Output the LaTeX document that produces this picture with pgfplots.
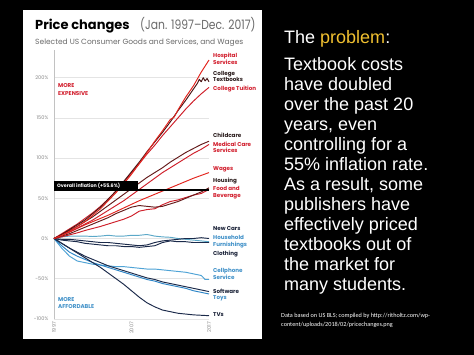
\documentclass[border=0pt]{standalone}
\usepackage{fontspec}
\setmainfont{Liberation Sans}
\newfontfamily\chartfont{Poppins}
\newfontfamily\notefont{Carlito}
\usepackage{graphicx}
\usepackage{pgfplots}
\pgfplotsset{compat=1.18}
\definecolor{hred}{HTML}{E3231C}
\definecolor{mred}{HTML}{CF1F2A}
\definecolor{dred}{HTML}{4A1414}
\definecolor{dred2}{HTML}{651B1B}
\definecolor{navy}{HTML}{1B2A4A}
\definecolor{lblue}{HTML}{4FA3D6}
\definecolor{mblue}{HTML}{2E86C8}
\definecolor{tealb}{HTML}{5BA8C8}
\definecolor{labred}{HTML}{D21F2E}
\definecolor{labdark}{HTML}{2A1C1C}
\definecolor{labnavy}{HTML}{1A2238}
\definecolor{labblue}{HTML}{3F90C8}
\definecolor{ygold}{HTML}{F0C030}
\definecolor{tickgray}{HTML}{8A8A8A}
\definecolor{gridgray}{HTML}{E4E4E4}
\definecolor{subgray}{HTML}{6A6A6A}
\newcommand\labfont{\chartfont\bfseries\fontsize{5.6}{6}\selectfont}
\newcommand\lab[3]{\node[anchor=base west, inner sep=0pt, text=#1, font=\labfont] at (213,355-#2-2) {#3};}
\begin{document}
\begin{tikzpicture}[x=1pt,y=1pt]
\fill[black] (0,0) rectangle (474,355);
\fill[white] (23,16) rectangle (262,345);
% titles
\node[anchor=base west, inner sep=0pt] at (35,355-29.5) {\chartfont\bfseries\fontsize{13}{15}\selectfont Price changes};
\node[anchor=base west, inner sep=0pt, text=subgray] at (140,355-29.5) {\scalebox{0.83}[1]{\chartfont\fontsize{13}{15}\selectfont (Jan. 1997–Dec. 2017)}};
\node[anchor=base west, inner sep=0pt, text=subgray] at (35,355-45) {\chartfont\fontsize{7.5}{9}\selectfont Selected US Consumer Goods and Services, and Wages};
\begin{axis}[
  at={(54pt,36.1pt)}, anchor=south west, scale only axis,
  width=155pt, height=268.5pt,
  xmin=1997, xmax=2017, ymin=-100, ymax=234,
  clip=false,
  axis lines*=left,
  x axis line style={draw=none},
  y axis line style={draw=gridgray!85!black, line width=0.6pt},
  major tick length=0pt,
  ymajorgrids, grid style={gridgray, line width=0.6pt},
  xtick={1997,2007,2017}, xticklabels={1997,2007,2017},
  xticklabel style={rotate=90, anchor=east, inner sep=0pt, text=tickgray, font=\chartfont\fontsize{5}{6}\selectfont},
  xticklabel shift=3pt,
  ytick={-100,-50,0,50,100,150,200},
  yticklabels={-100\%,-50\%,0\%,50\%,100\%,150\%,200\%},
  yticklabel style={anchor=east, inner sep=0pt, text=tickgray, font=\chartfont\fontsize{5}{6}\selectfont},
  yticklabel shift=5.5pt,
  every axis plot/.append style={line width=0.95pt, line join=round},
]
% --- blue group
\addplot[tealb] coordinates {(1997,0)(1998,2)(1999,3)(2000,3)(2001,3)(2002,2.5)(2003,3)(2004,4)(2005,3)(2006,3)(2007,4)(2008,4)(2009,5)(2010,3)(2011,2)(2012,1.5)(2013,0)(2014,-1)(2015,-2)(2016,-3)(2017,-4)};
\addplot[navy] coordinates {(1997,0)(1998,-1)(1999,-1)(2000,-2)(2001,-3)(2002,-4)(2003,-5)(2004,-5)(2005,-6)(2006,-7)(2007,-8)(2008,-9)(2009,-8)(2010,-5)(2011,-3)(2012,-2)(2013,-1)(2014,0)(2015,0)(2016,1)(2017,0)};
\addplot[navy] coordinates {(1997,0)(1998,-2)(1999,-3)(2000,-4)(2001,-6)(2002,-7)(2003,-8)(2004,-9)(2005,-9)(2006,-10)(2007,-10)(2008,-11)(2009,-10)(2010,-9)(2011,-5)(2012,-3)(2013,-4)(2014,-4)(2015,-5)(2016,-5)(2017,-5)};
\addplot[lblue] coordinates {(1997,0)(1998,-12)(1999,-22)(2000,-28)(2001,-30)(2002,-32)(2003,-33)(2004,-34)(2005,-35)(2006,-35)(2007,-36)(2008,-37)(2009,-38)(2010,-38)(2011,-39)(2012,-40)(2013,-41)(2014,-42)(2015,-44)(2016,-46)(2016.5,-51)(2017,-51)};
\addplot[mblue] coordinates {(1997,0)(1998,-9)(1999,-17)(2000,-22)(2001,-26)(2002,-30)(2003,-33)(2004,-36)(2005,-39)(2006,-42)(2007,-45)(2008,-48)(2009,-51)(2010,-53)(2011,-56)(2012,-58)(2013,-60)(2014,-62)(2015,-65)(2016,-67)(2017,-69)};
\addplot[navy] coordinates {(1997,0)(1998,-6)(1999,-12)(2000,-17)(2001,-22)(2002,-26)(2003,-30)(2004,-34)(2005,-37)(2006,-40)(2007,-43)(2008,-46)(2009,-49)(2010,-51)(2011,-54)(2012,-56)(2013,-58)(2014,-60)(2015,-62)(2016,-64)(2017,-66)};
\addplot[navy] coordinates {(1997,0)(1998,-6)(1999,-12)(2000,-18)(2001,-24)(2002,-30)(2003,-36)(2004,-43)(2005,-50)(2006,-57)(2007,-65)(2008,-73)(2009,-80)(2010,-85)(2011,-89)(2012,-91)(2013,-93)(2014,-94)(2015,-95)(2016,-95.5)(2017,-96)};
% --- red group
\addplot[mred] coordinates {(1997,0)(1998,2)(1999,4.5)(2000,7)(2001,10)(2002,12.5)(2003,15)(2004,18)(2005,21)(2006,24)(2007,28)(2008,34)(2009,36)(2010,37)(2011,42)(2012,46)(2013,48)(2014,51)(2015,54)(2016,56)(2017,61)};
\addplot[dred2] coordinates {(1997,0)(1998,3)(1999,6)(2000,10)(2001,14)(2002,18)(2003,22)(2004,26)(2005,31)(2006,35)(2007,39)(2008,41)(2009,40)(2010,39)(2011,40)(2012,43)(2013,46)(2014,50)(2015,54)(2016,58)(2017,63)};
\addplot[hred] coordinates {(1997,0)(1998,4)(1999,8)(2000,12.5)(2001,17)(2002,21)(2003,25)(2004,29)(2005,33.5)(2006,38)(2007,42.5)(2008,47)(2009,51)(2010,55)(2011,59)(2012,63)(2013,67)(2014,71)(2015,75)(2016,78.5)(2017,82)};
\addplot[mred] coordinates {(1997,0)(1998,4)(1999,8)(2000,13)(2001,18)(2002,23)(2003,29)(2004,35)(2005,41)(2006,47)(2007,54)(2008,61)(2009,68)(2010,75)(2011,82)(2012,88)(2013,94)(2014,100)(2015,106)(2016,111)(2017,117)};
\addplot[dred2] coordinates {(1997,0)(1998,5)(1999,10)(2000,15)(2001,21)(2002,27)(2003,34)(2004,41)(2005,48)(2006,55)(2007,62)(2008,69)(2009,76)(2010,82)(2011,88)(2012,95)(2013,101)(2014,107)(2015,112)(2016,117)(2017,121)};
\addplot[mred] coordinates {(1997,0)(1998,6)(1999,12)(2000,18)(2001,25)(2002,32)(2003,40)(2004,49)(2005,59)(2006,70)(2007,82)(2008,93)(2009,105)(2010,116)(2011,128)(2012,139)(2013,150)(2014,161)(2015,171)(2016,180)(2017,188)};
\addplot[dred] coordinates {(1997,0)(1998,5)(1999,11)(2000,17)(2001,23)(2002,31)(2003,39)(2004,49)(2005,59)(2006,71)(2007,83)(2008,95)(2009,108)(2010,120)(2011,132)(2012,145)(2013,159)(2014,172)(2015,186)(2015.5,193)(2015.75,198)(2016,195)(2016.25,200)(2016.5,196)(2016.75,199)(2017,195)};
\addplot[hred] coordinates {(1997,0)(1998,4)(1999,9)(2000,15)(2001,21)(2002,29)(2003,37)(2004,47)(2005,57)(2006,68)(2007,80)(2008,93)(2009,107)(2010,121)(2011,134)(2012,148)(2012.5,151)(2013,160)(2014,176)(2015,190)(2016,207)(2017,222)};
% overall inflation
\addplot[black, line width=2pt] coordinates {(1997,60.7)(2017,60.7)};
\end{axis}
% inflation box
\fill[black] (54,355-190.5) rectangle (138,355-181.5);
\node[anchor=base west, inner sep=0pt, text=white, font=\chartfont\bfseries\fontsize{4.8}{5}\selectfont] at (57,355-187.8) {Overall inflation (+55.6\%)};
% region labels
\node[anchor=base west, inner sep=0pt, text=labred, font=\labfont] at (58,355-87.7) {MORE};
\node[anchor=base west, inner sep=0pt, text=labred, font=\labfont] at (58,355-95.3) {EXPENSIVE};
\node[anchor=base west, inner sep=0pt, text=labblue, font=\labfont] at (58,355-301.7) {MORE};
\node[anchor=base west, inner sep=0pt, text=labblue, font=\labfont] at (58,355-309) {AFFORDABLE};
% series labels
\lab{labred}{55.7}{Hospital}
\lab{labred}{62.3}{Services}
\lab{labdark}{73.3}{College}
\lab{labdark}{80}{Textbooks}
\lab{labred}{88.7}{College Tuition}
\lab{labdark}{136}{Childcare}
\lab{labred}{144.3}{Medical Care}
\lab{labred}{150.3}{Services}
\lab{labred}{169}{Wages}
\lab{labdark}{181}{Housing}
\lab{labred}{189}{Food and}
\lab{labred}{195.7}{Beverage}
\lab{labnavy}{229}{New Cars}
\lab{labblue}{237.7}{Household}
\lab{labblue}{244.3}{Furnishings}
\lab{labnavy}{253.3}{Clothing}
\lab{labblue}{271}{Cellphone}
\lab{labblue}{277.7}{Service}
\lab{labnavy}{291.7}{Software}
\lab{labblue}{297.3}{Toys}
\lab{labnavy}{315}{TVs}
% right-hand text
\node[anchor=base west, inner sep=0pt, text=white] at (284,355-44) {\fontsize{18}{20}\selectfont The \textcolor{ygold}{problem}:};
\foreach \t [count=\i] in {Textbook costs, have doubled, over the past 20, {years, even}, controlling for a, 55\% inflation rate., {As a result, some}, publishers have, effectively priced, textbooks out of, the market for, many students.}
  \node[anchor=base west, inner sep=0pt, text=white] at (284,355-71-20*\i+20) {\fontsize{18}{20}\selectfont \t};
\node[anchor=base west, inner sep=0pt, text=white] at (281,355-318) {\notefont\fontsize{6.2}{8}\selectfont Data based on US BLS; compiled by http://ritholtz.com/wp-};
\node[anchor=base west, inner sep=0pt, text=white] at (281,355-326.3) {\notefont\fontsize{6.2}{8}\selectfont content/uploads/2018/02/pricechanges.png};
\end{tikzpicture}
\end{document}
